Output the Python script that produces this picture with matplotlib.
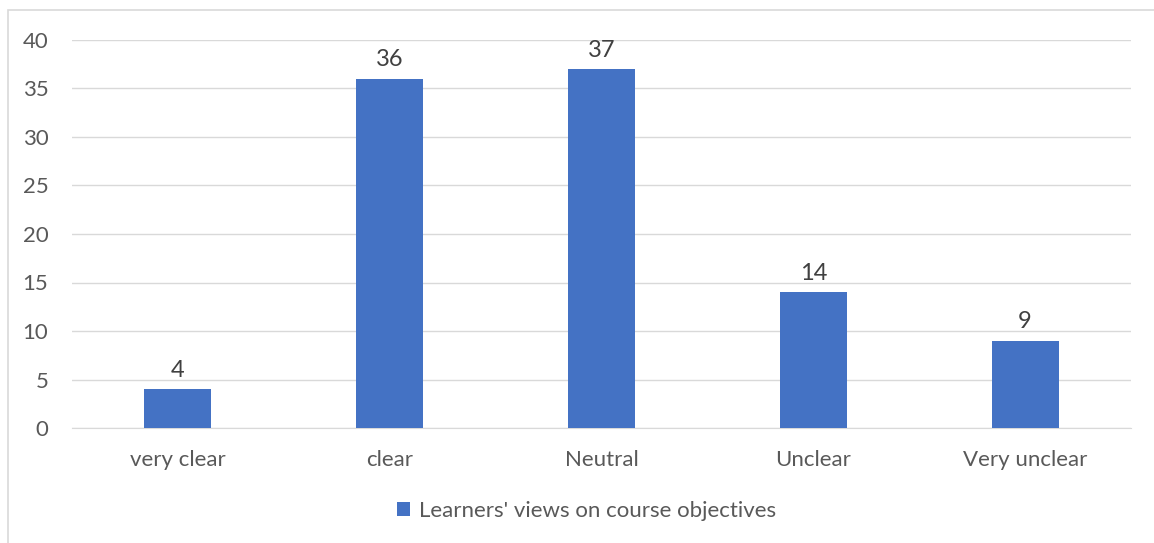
import matplotlib.pyplot as plt
from matplotlib.patches import Rectangle

categories = ['very clear', 'clear', 'Neutral', 'Unclear', 'Very unclear']
values = [4, 36, 37, 14, 9]
series_name = "Learners' views on course objectives"

BLUE = '#4472C4'
GRAY = '#595959'
GRID = '#D9D9D9'

plt.rcParams['font.family'] = ['Lato', 'DejaVu Sans']

fig = plt.figure(figsize=(11.54, 5.43), dpi=100)
# chart border (Excel-like chart area)
fig.patches.append(Rectangle((8 / 1154, -0.01), 1.1, 1 - 10 / 543 + 0.01,
                             transform=fig.transFigure, fill=False,
                             edgecolor=GRID, linewidth=1.2))

ax = fig.add_axes([72 / 1154, 1 - 428 / 543, (1131 - 72) / 1154, (428 - 40) / 543])
x = range(len(categories))
bars = ax.bar(x, values, width=0.316, color=BLUE, label=series_name, zorder=3)

ax.set_xlim(-0.5, len(categories) - 0.5)
ax.set_ylim(0, 40)
ax.set_yticks(range(0, 41, 5))
ax.set_xticks(list(x))
ax.set_xticklabels(categories)
ax.grid(axis='y', color=GRID, linewidth=1, zorder=0)
for s in ['top', 'right', 'left']:
    ax.spines[s].set_visible(False)
ax.spines['bottom'].set_color(GRID)
ax.tick_params(axis='both', length=0, colors=GRAY, labelsize=16)
ax.tick_params(axis='y', pad=17)
ax.tick_params(axis='x', pad=16)

for b, v in zip(bars, values):
    ax.annotate(str(v), (b.get_x() + b.get_width() / 2, v), xytext=(0, 6),
                textcoords='offset points', ha='center', va='bottom',
                fontsize=17, color='#404040')

fig.legend(loc='center', bbox_to_anchor=(0.508, 1 - 511 / 543), frameon=False,
           fontsize=16, labelcolor=GRAY, handlelength=0.6, handleheight=0.6,
           handletextpad=0.4)

fig.savefig('out.png', dpi=100)
